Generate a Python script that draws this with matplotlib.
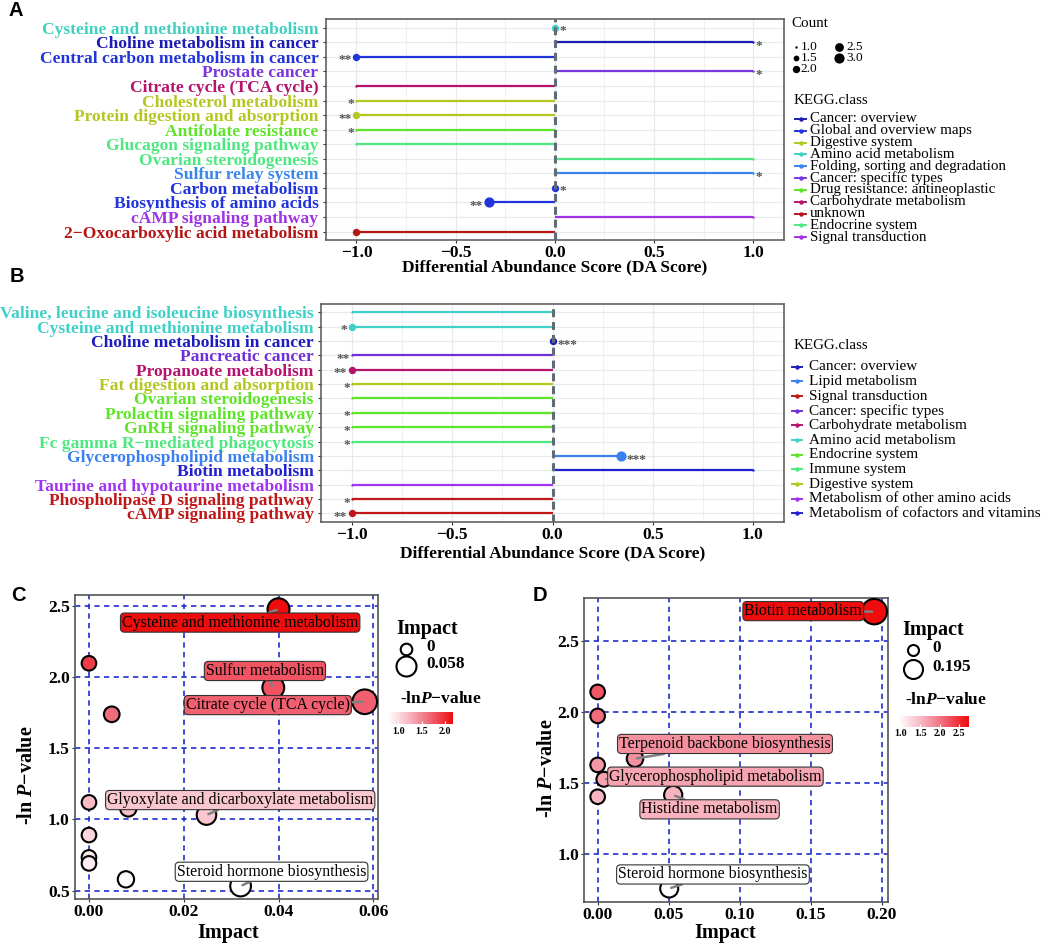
import numpy as np
import matplotlib
matplotlib.use("Agg")
import matplotlib.pyplot as plt
from matplotlib.lines import Line2D
from matplotlib.colors import LinearSegmentedColormap, Normalize
import matplotlib.cm as cm

plt.rcParams['font.family'] = ['Liberation Serif', 'DejaVu Serif']
plt.rcParams['mathtext.fontset'] = 'custom'
plt.rcParams['mathtext.rm'] = 'Liberation Serif:bold'
plt.rcParams['mathtext.it'] = 'Liberation Serif:italic:bold'
plt.rcParams['mathtext.bf'] = 'Liberation Serif:bold'

# ---------------- data: panel A ----------------
a_pathways = ["Cysteine and methionine metabolism", "Choline metabolism in cancer",
              "Central carbon metabolism in cancer", "Prostate cancer",
              "Citrate cycle (TCA cycle)", "Cholesterol metabolism",
              "Protein digestion and absorption", "Antifolate resistance",
              "Glucagon signaling pathway", "Ovarian steroidogenesis",
              "Sulfur relay system", "Carbon metabolism",
              "Biosynthesis of amino acids", "cAMP signaling pathway",
              "2\u2212Oxocarboxylic acid metabolism"]
a_da = [0, 1, -1, 1, -1, -1, -1, -1, -1, 1, 1, 0, -0.33, 1, -1]
a_count = [2, 1, 2, 1, 1, 1, 2, 1, 1, 1, 1, 2, 3, 1, 2]
a_sig = ["*", "*", "**", "*", "", "*", "**", "*", "", "", "*", "*", "**", "", ""]
a_class = ["Amino acid metabolism", "Cancer: overview", "Global and overview maps",
           "Cancer: specific types", "Carbohydrate metabolism", "Digestive system",
           "Digestive system", "Drug resistance: antineoplastic", "Endocrine system",
           "Endocrine system", "Folding, sorting and degradation", "Global and overview maps",
           "Global and overview maps", "Signal transduction", "unknown"]
a_legend = ["Cancer: overview", "Global and overview maps", "Digestive system",
            "Amino acid metabolism", "Folding, sorting and degradation",
            "Cancer: specific types", "Drug resistance: antineoplastic",
            "Carbohydrate metabolism", "unknown", "Endocrine system", "Signal transduction"]
a_colors = {"Cancer: overview": "#1c1cb4", "Global and overview maps": "#2234dc",
            "Digestive system": "#b5c620", "Amino acid metabolism": "#40d0c0",
            "Folding, sorting and degradation": "#3a86ea", "Cancer: specific types": "#7a36e0",
            "Drug resistance: antineoplastic": "#5ee42a", "Carbohydrate metabolism": "#b4146e",
            "unknown": "#b41616", "Endocrine system": "#4ee880", "Signal transduction": "#a034e4"}
count_levels = [1.0, 1.5, 2.0, 2.5, 3.0]

# ---------------- data: panel B ----------------
b_pathways = ["Valine, leucine and isoleucine biosynthesis", "Cysteine and methionine metabolism",
              "Choline metabolism in cancer", "Pancreatic cancer", "Propanoate metabolism",
              "Fat digestion and absorption", "Ovarian steroidogenesis",
              "Prolactin signaling pathway", "GnRH signaling pathway",
              "Fc gamma R\u2212mediated phagocytosis", "Glycerophospholipid metabolism",
              "Biotin metabolism", "Taurine and hypotaurine metabolism",
              "Phospholipase D signaling pathway", "cAMP signaling pathway"]
b_da = [-1, -1, 0, -1, -1, -1, -1, -1, -1, -1, 0.34, 1, -1, -1, -1]
b_count = [1, 2, 2, 1, 2, 1, 1, 1, 1, 1, 3, 1, 1, 1, 2]
b_sig = ["", "*", "***", "**", "**", "*", "", "*", "*", "*", "***", "", "", "*", "**"]
b_class = ["Amino acid metabolism", "Amino acid metabolism", "Cancer: overview",
           "Cancer: specific types", "Carbohydrate metabolism", "Digestive system",
           "Endocrine system", "Endocrine system", "Endocrine system", "Immune system",
           "Lipid metabolism", "Metabolism of cofactors and vitamins",
           "Metabolism of other amino acids", "Signal transduction", "Signal transduction"]
b_legend = ["Cancer: overview", "Lipid metabolism", "Signal transduction",
            "Cancer: specific types", "Carbohydrate metabolism", "Amino acid metabolism",
            "Endocrine system", "Immune system", "Digestive system",
            "Metabolism of other amino acids", "Metabolism of cofactors and vitamins"]
b_colors = {"Cancer: overview": "#1c1cc0", "Lipid metabolism": "#3a80f0",
            "Signal transduction": "#c01818", "Cancer: specific types": "#7030d8",
            "Carbohydrate metabolism": "#b4146e", "Amino acid metabolism": "#40d0c8",
            "Endocrine system": "#5ee42a", "Immune system": "#4ee880",
            "Digestive system": "#b5c620", "Metabolism of other amino acids": "#a034f0",
            "Metabolism of cofactors and vitamins": "#2020d0"}

# ---------------- data: panel C ----------------
c_impact = [0.040, 0.0, 0.0048, 0.0389, 0.0582, 0.0, 0.0083, 0.0248, 0.0, 0.0, 0.0, 0.0078, 0.032]
c_lnp = [2.475, 2.096, 1.738, 1.925, 1.826, 1.12, 1.078, 1.031, 0.891, 0.734, 0.692, 0.58, 0.533]
c_names = ["Cysteine and methionine metabolism", "", "", "Sulfur metabolism",
           "Citrate cycle (TCA cycle)", "", "", "Glyoxylate and dicarboxylate metabolism",
           "", "", "", "", "Steroid hormone biosynthesis"]
c_xticks = [0.00, 0.02, 0.04, 0.06]
c_yticks = [0.5, 1.0, 1.5, 2.0, 2.5]
c_cbticks = [1.0, 1.5, 2.0]

# ---------------- data: panel D ----------------
d_impact = [0.1948, 0.0, 0.0, 0.0263, 0.0, 0.0044, 0.0, 0.0532, 0.0504]
d_lnp = [2.706, 2.141, 1.972, 1.671, 1.627, 1.526, 1.403, 1.415, 0.757]
d_names = ["Biotin metabolism", "", "", "Terpenoid backbone biosynthesis", "",
           "Glycerophospholipid metabolism", "", "Histidine metabolism",
           "Steroid hormone biosynthesis"]
d_xticks = [0.00, 0.05, 0.10, 0.15, 0.20]
d_yticks = [1.0, 1.5, 2.0, 2.5]
d_cbticks = [1.0, 1.5, 2.0, 2.5]

# ---------------- figure ----------------
W, H = 1042, 946
fig = plt.figure(figsize=(W / 100, H / 100), dpi=100)
fig.patch.set_facecolor("white")


def fx(x):
    return x / W


def fy(y):
    return 1 - y / H


def axes_px(l, t, r, b):
    return fig.add_axes([fx(l), fy(b), (r - l) / W, (b - t) / H])


PT = 0.72  # points per pixel
count_r_px = [1.2, 2.9, 3.7, 4.4, 5.1]  # style scale for dot radius


def count_r(c):
    return np.interp(c, count_levels, count_r_px)


def lollipop(ax, names, da, count, sig, classes, colors, ylims):
    n = len(names)
    ys = np.arange(n, 0, -1)
    ax.set_xlim(-1.155, 1.155)
    ax.set_ylim(*ylims)
    ax.set_xticks([-1, -0.5, 0, 0.5, 1])
    ax.set_xticklabels(["\u22121.0", "\u22120.5", "0.0", "0.5", "1.0"],
                       fontsize=12.5, fontweight="bold")
    ax.set_xticks([-0.75, -0.25, 0.25, 0.75], minor=True)
    ax.set_yticks(ys)
    ax.set_yticklabels(names, fontsize=12.6, fontweight="bold")
    for lab, cl in zip(ax.get_yticklabels(), classes):
        lab.set_color(colors[cl])
    ax.tick_params(axis="y", length=2.2, pad=3, color="#333333")
    ax.tick_params(axis="x", which="major", length=2.2, pad=1.5, color="#333333")
    ax.tick_params(axis="x", which="minor", length=0)
    ax.grid(True, which="major", color="#e6e9ed", lw=0.9)
    ax.grid(True, which="minor", axis="x", color="#eef0f3", lw=0.8)
    ax.set_axisbelow(True)
    for sp in ax.spines.values():
        sp.set_color("#555555")
        sp.set_linewidth(1.1)
    for y, v, c, s, cl in zip(ys, da, count, sig, classes):
        col = colors[cl]
        ax.plot([0, v], [y, y], color=col, lw=1.6, solid_capstyle="butt", zorder=3)
        r = count_r(c)
        ax.plot([v], [y], "o", ms=2 * r * PT, color=col, mec=col, mew=0, zorder=4)
        if s:
            off = (r + 1.2) * PT
            if v < 0:
                ax.annotate(s, (v, y), xytext=(-off, -2.6), textcoords="offset points",
                            ha="right", va="center", fontsize=9.5, color="#555555",
                            fontweight="bold", zorder=6)
            else:
                ax.annotate(s, (v, y), xytext=(off, -2.6), textcoords="offset points",
                            ha="left", va="center", fontsize=9.5, color="#555555",
                            fontweight="bold", zorder=6)
    ax.axvline(0, color="#5f6b77", lw=2.2, ls=(0, (2.6, 1.6)), zorder=5)


def kegg_legend(title, title_xy, entries, colors, y0, dy, kx0, kx1, tx, fs):
    fig.text(fx(title_xy[0]), fy(title_xy[1]), title, fontsize=10.8, ha="left", va="center")
    for i, e in enumerate(entries):
        y = y0 + i * dy
        col = colors[e]
        fig.add_artist(Line2D([fx(kx0), fx(kx1)], [fy(y), fy(y)], color=col, lw=1.4,
                              transform=fig.transFigure))
        fig.add_artist(Line2D([fx((kx0 + kx1) / 2)], [fy(y)], marker="o", ms=3.2, color=col,
                              mew=0, transform=fig.transFigure))
        fig.text(fx(tx), fy(y), e, fontsize=fs, ha="left", va="center")


# ---- Panel A ----
axA = axes_px(325.7, 19, 784, 240)
lollipop(axA, a_pathways, a_da, a_count, a_sig, a_class, a_colors, (0.42, 15.6))
fig.text(fx(555), fy(267.5), "Differential Abundance Score (DA Score)", fontsize=12.5,
         fontweight="bold", ha="center", va="center")
# Count legend
fig.text(fx(791.7), fy(23.3), "Count", fontsize=10.8, ha="left", va="center")
cnt_pos = [(795.5, 46.7), (795.5, 58.0), (795.5, 69.0), (839.3, 46.7), (839.3, 58.0)]
for lvl, (px_, py_) in zip(count_levels, cnt_pos):
    r = count_r(lvl)
    fig.add_artist(Line2D([fx(px_)], [fy(py_)], marker="o", ms=2 * r * PT, color="black",
                          mew=0, transform=fig.transFigure))
    fig.text(fx(px_ + 5 if px_ < 820 else px_ + 7.5), fy(py_), f"{lvl:.1f}", fontsize=9.6,
             ha="left", va="center")
kegg_legend("KEGG.class", (794, 100), a_legend, a_colors, 119, 11.83, 795, 806, 810, 10.8)

# ---- Panel B ----
axB = axes_px(321, 304, 784, 521.7)
lollipop(axB, b_pathways, b_da, b_count, b_sig, b_class, b_colors, (0.42, 15.58))
fig.text(fx(553), fy(553), "Differential Abundance Score (DA Score)", fontsize=12.5,
         fontweight="bold", ha="center", va="center")
kegg_legend("KEGG.class", (793.3, 345.7), b_legend, b_colors, 366.7, 14.67, 791.7, 802.3,
            809.3, 11.0)

# ---- colour map for bubbles ----
cmap = LinearSegmentedColormap.from_list("wr", ["#ffffff", "#f8b4c0", "#f06070", "#ee0c0c"])


def bubble(ax, impact, lnp, names, offsets, xlim, ylim, xticks, yticks, xfmt, imax, rmax):
    norm = Normalize(min(lnp), max(lnp))
    ax.set_xlim(*xlim)
    ax.set_ylim(*ylim)
    ax.set_xticks(xticks)
    ax.set_xticklabels([xfmt.format(v) for v in xticks], fontsize=12.6, fontweight="bold")
    ax.set_yticks(yticks)
    ax.set_yticklabels([f"{v:.1f}" for v in yticks], fontsize=12.6, fontweight="bold")
    ax.tick_params(length=2.2, pad=1.5, color="#333333")
    ax.grid(True, color="#1f2fd0", ls=(0, (3.2, 2.6)), lw=1.2)
    ax.set_axisbelow(True)
    for sp in ax.spines.values():
        sp.set_color("#555555")
        sp.set_linewidth(1.2)
    r0 = 7.3
    rad = np.sqrt(r0 ** 2 + (rmax ** 2 - r0 ** 2) * np.array(impact) / imax)
    cols = cmap(norm(np.array(lnp)))
    ax.scatter(impact, lnp, s=(2 * rad * PT) ** 2, c=cols, edgecolors="black",
               linewidths=1.5, zorder=3, clip_on=False)
    k = 0
    for x, y, nm, rr, cc in zip(impact, lnp, names, rad, cols):
        if not nm:
            continue
        dx, dy = offsets[k]
        k += 1
        ax.annotate(nm, (x, y), xytext=(dx, dy), textcoords="offset points",
                    ha="center", va="center", fontsize=11.4, color="black", zorder=6,
                    bbox=dict(boxstyle="round,pad=0.1,rounding_size=0.25", fc=cc,
                              ec="#333333", lw=0.8),
                    arrowprops=dict(arrowstyle="-", color="#808080", lw=1.8,
                                    shrinkA=0, shrinkB=1.5))


def impact_legend(tx, ty, cx, cys, rads, labels, tlx, cb_title_xy, cb_box, cb_range, cb_ticks):
    fig.text(fx(tx), fy(ty), "Impact", fontsize=14.5, fontweight="bold", ha="left", va="center")
    for cy, r, lab in zip(cys, rads, labels):
        fig.add_artist(Line2D([fx(cx)], [fy(cy)], marker="o", ms=2 * r * PT, mfc="white",
                              mec="black", mew=1.5, transform=fig.transFigure))
        fig.text(fx(tlx), fy(cy - 2), lab, fontsize=12.3, fontweight="bold", ha="left",
                 va="center")
    fig.text(fx(cb_title_xy[0]), fy(cb_title_xy[1]), "-ln$\\mathit{P}$\u2212value",
             fontsize=12.5, fontweight="bold", ha="left", va="center")
    cax = axes_px(*cb_box)
    sm = cm.ScalarMappable(norm=Normalize(*cb_range), cmap=cmap)
    cb = fig.colorbar(sm, cax=cax, orientation="horizontal", ticks=cb_ticks)
    cb.outline.set_visible(False)
    cax.tick_params(length=2.5, width=0.8, color="white", direction="in", pad=2)
    cax.set_xticklabels([f"{v:.1f}" for v in cb_ticks], fontsize=7.2, fontweight="bold")


# ---- Panel C ----
axC = axes_px(75, 595, 378, 899.3)
c_offsets = [(-27.6, -9.6), (-6, 12), (-69.8, -2.4), (24.3, 10.8), (22.3, 10.3)]
bubble(axC, c_impact, c_lnp, c_names, c_offsets, (-0.00295, 0.061), (0.44, 2.575),
       c_xticks, c_yticks, "{:.2f}", 0.058, 12.3)
fig.text(fx(227.7), fy(932.7), "Impact", fontsize=14.5, fontweight="bold", ha="center",
         va="center")
fig.text(fx(27), fy(775), "-ln $\\mathit{P}$\u2212value", fontsize=14.5, fontweight="bold",
         ha="center", va="center", rotation=90)
impact_legend(396.7, 629, 406, [649, 666], [5.8, 10.0], ["0", "0.058"], 426.7, (400, 699),
              (388, 711.7, 453, 724.3), (0.78, 2.17), c_cbticks)

# ---- Panel D ----
axD = axes_px(584.3, 598.3, 888.3, 901.7)
d_offsets = [(-51.1, 0.4), (64.8, 10.6), (80.3, 1.9), (26.2, -10.3), (31.5, 10.1)]
bubble(axD, d_impact, d_lnp, d_names, d_offsets, (-0.0094, 0.2047), (0.664, 2.80),
       d_xticks, d_yticks, "{:.2f}", 0.195, 12.7)
fig.text(fx(725), fy(933), "Impact", fontsize=14.5, fontweight="bold", ha="center",
         va="center")
fig.text(fx(546.7), fy(768), "-ln $\\mathit{P}$\u2212value", fontsize=14.5, fontweight="bold",
         ha="center", va="center", rotation=90)
impact_legend(902.7, 630, 913.3, [650, 669], [5.5, 9.5], ["0", "0.195"], 932.3, (905, 700),
              (898.3, 715.7, 969, 726.7), (0.93, 2.75), d_cbticks)

# ---- panel letters ----
for let, x, y in [("A", 16, 11), ("B", 17, 276), ("C", 18, 595), ("D", 540, 595)]:
    fig.text(fx(x), fy(y), let, fontsize=14.5, fontweight="bold", family="Liberation Sans",
             ha="center", va="center")

fig.savefig("out.png", dpi=100, facecolor="white")
